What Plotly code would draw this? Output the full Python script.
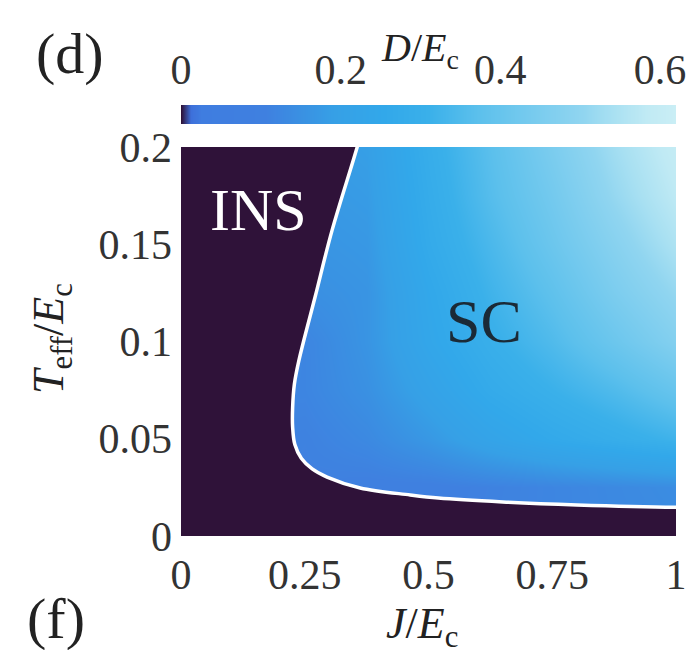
import numpy as np
import plotly.graph_objects as go

# Grid of the phase diagram: coupling J/E_c (columns) and temperature T_eff/E_c (rows)
J_vals = [0.0, 0.125, 0.25, 0.375, 0.5, 0.625, 0.75, 0.875, 1.0]
T_vals = [0.0, 0.025, 0.05, 0.075, 0.1, 0.125, 0.15, 0.175, 0.2]

# Superconducting gap D/E_c on the grid (None = insulating side)
N = None
D_rows = [
    [N, N, N,    N,    N,    N,    N,    N,    N],     # T = 0
    [N, N, N,    0.10, 0.10, 0.11, 0.12, 0.13, 0.14],  # T = 0.025
    [N, N, 0.11, 0.13, 0.17, 0.22, 0.26, 0.29, 0.32],  # T = 0.05
    [N, N, 0.12, 0.15, 0.21, 0.27, 0.31, 0.35, 0.40],  # T = 0.075
    [N, N, 0.12, 0.16, 0.24, 0.30, 0.35, 0.41, 0.47],  # T = 0.1
    [N, N, N,    0.16, 0.25, 0.32, 0.38, 0.45, 0.51],  # T = 0.125
    [N, N, N,    0.17, 0.27, 0.34, 0.41, 0.48, 0.55],  # T = 0.15
    [N, N, N,    0.18, 0.28, 0.36, 0.43, 0.51, 0.58],  # T = 0.175
    [N, N, N,    0.19, 0.29, 0.37, 0.45, 0.53, 0.60],  # T = 0.2
]

# Insulator / superconductor phase boundary (J/E_c, T_eff/E_c)
boundary_J = [0.356, 0.305, 0.271, 0.238, 0.229, 0.2255, 0.2255, 0.230,
              0.243, 0.265, 0.295, 0.362, 0.463, 0.52, 0.65, 0.80, 1.0]
boundary_T = [0.2, 0.157, 0.123, 0.090, 0.078, 0.066, 0.056, 0.047,
              0.040, 0.0345, 0.0303, 0.0247, 0.0211, 0.0195, 0.0175, 0.016, 0.0148]

x_ticks = [0, 0.25, 0.5, 0.75, 1]
x_ticktext = ["0", "0.25", "0.5", "0.75", "1"]
y_ticks = [0, 0.05, 0.1, 0.15, 0.2]
y_ticktext = ["0", "0.05", "0.1", "0.15", "0.2"]
cb_ticks = [0, 0.2, 0.4, 0.6]
cb_ticktext = ["0", "0.2", "0.4", "0.6"]
D_max = 0.62

INS_COLOR = "#2f1239"
FONT = "Liberation Serif"

colorscale = [
    [0.0, INS_COLOR],
    [0.02, "#3d6fda"],
    [0.04, "#3f7de0"],
    [0.17, "#3f80e0"],
    [0.24, "#3a90e2"],
    [0.31, "#36a0e6"],
    [0.41, "#32a8ea"],
    [0.50, "#3ab0ea"],
    [0.60, "#5cc0ec"],
    [0.70, "#75caee"],
    [0.81, "#90d5f0"],
    [0.87, "#a8e0f2"],
    [0.94, "#c0eaf4"],
    [1.0, "#caeef5"],
]

fig = go.Figure()

# Gap map
fig.add_trace(go.Heatmap(
    x=J_vals, y=T_vals, z=D_rows,
    coloraxis="coloraxis", zsmooth="best", connectgaps=True,
    hoverinfo="skip",
))

# Insulating region, closed beyond the axis limits
ins_x = [-0.1, 0.372] + boundary_J + [1.1, 1.1, -0.1]
ins_y = [0.215, 0.215] + boundary_T + [0.0148, -0.05, -0.05]
fig.add_trace(go.Scatter(
    x=ins_x, y=ins_y, mode="lines", fill="toself",
    fillcolor=INS_COLOR, line=dict(width=0, color=INS_COLOR, shape="spline"),
    hoverinfo="skip", showlegend=False,
))

# Phase boundary line
fig.add_trace(go.Scatter(
    x=[0.372] + boundary_J + [1.1], y=[0.215] + boundary_T + [0.0148],
    mode="lines", line=dict(width=3.5, color="white", shape="spline"),
    hoverinfo="skip", showlegend=False,
))

# Colour bar drawn as a strip on its own axes
cb_x = np.linspace(0, D_max, 160)
fig.add_trace(go.Heatmap(
    x=cb_x, y=[0, 1], z=[cb_x, cb_x],
    coloraxis="coloraxis", zsmooth="best",
    xaxis="x2", yaxis="y2", hoverinfo="skip",
))

W, H = 694, 650
px = lambda v: v / W
py = lambda v: (H - v) / H

tick_font = dict(family=FONT, size=42, color="#333333")

common = dict(showgrid=False, zeroline=False, showline=False, ticks="",
              automargin=False)


def label(text, x, y, size, color="#222222", ref="paper", angle=0):
    return dict(text=text, x=x, y=y, xref="x" if ref == "data" else "paper",
                yref="y" if ref == "data" else "paper", showarrow=False,
                xanchor="center", yanchor="middle", textangle=angle,
                font=dict(family=FONT, size=size, color=color))


fig.update_layout(
    width=W, height=H,
    margin=dict(l=0, r=0, t=0, b=0, autoexpand=False),
    paper_bgcolor="white", plot_bgcolor="white",
    showlegend=False,
    coloraxis=dict(colorscale=colorscale, cmin=0, cmax=D_max, showscale=False),
    xaxis=dict(
        domain=[px(181), px(676)], range=[0, 1],
        tickvals=x_ticks, ticktext=x_ticktext, tickfont=tick_font,
        ticklabelstandoff=10, **common,
    ),
    yaxis=dict(
        domain=[py(536), py(147)], range=[0, 0.2],
        tickvals=y_ticks, ticktext=y_ticktext, tickfont=tick_font,
        ticklabelstandoff=8, **common,
    ),
    xaxis2=dict(
        domain=[px(181), px(676)], range=[0, D_max], anchor="y2", side="top",
        tickvals=cb_ticks, ticktext=cb_ticktext, tickfont=tick_font,
        ticklabelstandoff=12, **common,
    ),
    yaxis2=dict(
        domain=[py(124), py(105)], range=[0, 1], anchor="x2",
        showticklabels=False, **common,
    ),
    annotations=[
        label("INS", 0.156, 0.1676, 60, "white", ref="data"),
        label("SC", 0.612, 0.1105, 62, "#1b2a36", ref="data"),
        label("<i>J</i>/<i>E</i><sub>c</sub>", px(422), py(626), 44),
        label("<i>T</i><sub>eff</sub>/<i>E</i><sub>c</sub>", px(51), py(339), 44,
              angle=-90),
        label("<i>D</i>/<i>E</i><sub>c</sub>", px(420), py(50), 40),
        label("(d)", px(70), py(54), 58),
        label("(f)", px(56), py(618), 58),
    ],
)

fig.write_html("out.html")
